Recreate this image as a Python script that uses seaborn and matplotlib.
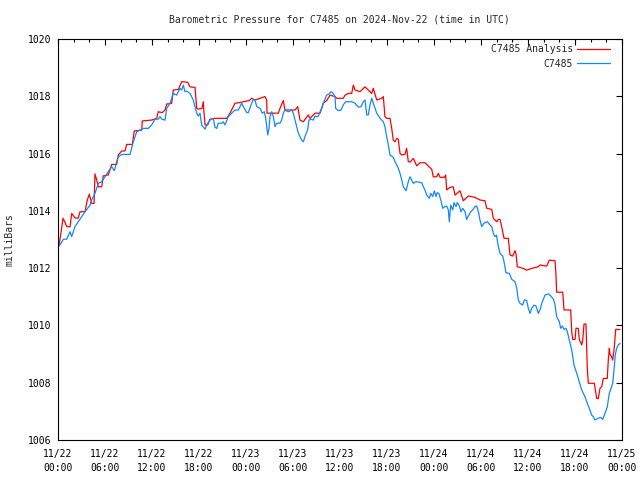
import matplotlib
matplotlib.use("Agg")
import matplotlib.pyplot as plt
from matplotlib.lines import Line2D
import pandas as pd
import seaborn as sns

# ---- data (hours after 2024-11-22 00:00 UTC, millibars) ----
analysis_hours = [0.13, 0.64, 0.89, 1.11, 1.53, 1.75, 2.17, 2.59, 2.81, 3.45, 3.74, 4.0, 4.30, 4.60, 4.72,
                  4.94, 5.14, 5.58, 5.78, 6.42, 6.64, 6.86, 7.49, 7.70, 8.13, 8.55, 8.77, 9.49, 9.74, 10.69,
                  10.76, 11.96, 12.60, 12.80, 13.31, 13.66, 13.88, 14.51, 14.72, 15.36, 15.79, 16.56, 16.85,
                  17.49, 17.71, 17.91, 18.38, 18.55, 18.64, 18.77, 19.11, 19.40, 20.04, 21.54, 21.96, 22.60,
                  23.23, 23.66, 24.42, 24.73, 25.15, 26.43, 26.64, 26.68, 28.12, 28.34, 28.76, 28.98, 30.26,
                  30.60, 30.89, 31.32, 31.95, 32.17, 32.81, 33.45, 33.87, 34.30, 34.72, 35.36, 35.58, 36.42,
                  36.64, 37.06, 37.49, 37.70, 37.91, 38.55, 39.19, 39.61, 40.05, 40.25, 40.69, 41.32, 41.53,
                  41.74, 41.96, 42.38, 42.60, 42.80, 43.02, 43.24, 43.44, 43.66, 43.88, 44.30, 44.51, 44.72,
                  44.94, 45.36, 45.79, 46.21, 46.85, 47.27, 47.71, 47.91, 48.34, 48.55, 48.77, 49.32, 49.49,
                  49.62, 50.04, 50.46, 50.68, 51.32, 51.74, 52.38, 53.23, 53.87, 54.51, 54.73, 55.37, 55.57,
                  56.00, 56.21, 56.43, 56.64, 56.94, 57.49, 57.70, 58.05, 58.34, 58.47, 58.63, 59.40, 59.83,
                  60.47, 61.32, 61.53, 62.39, 62.72, 63.45, 63.57, 63.66, 64.43, 64.60, 65.45, 65.58, 65.71,
                  66.00, 66.13, 66.42, 66.55, 66.86, 66.98, 67.15, 67.40, 67.57, 67.70, 68.46, 68.55, 68.77,
                  68.97, 69.19, 69.41, 69.61, 70.12, 70.25, 70.38, 70.47, 70.69, 70.81, 70.98, 71.20, 71.74]
analysis_mb = [1012.77, 1013.74, 1013.60, 1013.45, 1013.44, 1013.91, 1013.75, 1013.75, 1013.97, 1013.97,
               1014.38, 1014.58, 1014.26, 1014.26, 1015.29, 1015.08, 1014.84, 1014.84, 1015.22, 1015.25,
               1015.43, 1015.62, 1015.62, 1015.95, 1016.09, 1016.09, 1016.32, 1016.32, 1016.79, 1016.82,
               1017.14, 1017.17, 1017.23, 1017.46, 1017.43, 1017.52, 1017.73, 1017.75, 1018.22, 1018.24,
               1018.51, 1018.49, 1018.33, 1018.31, 1017.58, 1017.55, 1017.58, 1017.81, 1017.41, 1017.00,
               1017.00, 1017.20, 1017.23, 1017.23, 1017.41, 1017.76, 1017.78, 1017.81, 1017.85, 1017.93,
               1017.87, 1017.99, 1017.87, 1017.41, 1017.41, 1017.58, 1017.85, 1017.52, 1017.52, 1017.64,
               1017.17, 1017.11, 1017.35, 1017.23, 1017.41, 1017.41, 1017.76, 1017.85, 1018.04, 1017.99,
               1017.93, 1017.93, 1018.04, 1018.10, 1018.10, 1018.39, 1018.22, 1018.16, 1018.33, 1018.22,
               1018.10, 1018.28, 1017.87, 1017.93, 1017.99, 1017.29, 1017.23, 1017.23, 1016.88, 1016.47,
               1016.41, 1016.53, 1016.50, 1016.01, 1015.95, 1015.98, 1016.18, 1015.72, 1015.70, 1015.83,
               1015.57, 1015.68, 1015.68, 1015.57, 1015.45, 1015.19, 1015.19, 1015.31, 1015.17, 1015.17,
               1015.25, 1014.73, 1014.82, 1014.84, 1014.55, 1014.70, 1014.35, 1014.52, 1014.47, 1014.38,
               1014.35, 1014.09, 1014.05, 1013.74, 1013.62, 1013.70, 1013.70, 1013.45, 1013.04, 1013.04,
               1012.46, 1012.42, 1012.61, 1012.50, 1012.05, 1011.99, 1011.93, 1011.99, 1012.05, 1012.11,
               1012.07, 1012.28, 1012.26, 1011.76, 1011.16, 1011.16, 1010.54, 1010.54, 1009.78, 1009.51,
               1009.51, 1009.90, 1009.90, 1009.51, 1009.32, 1009.47, 1010.05, 1010.05, 1008.50, 1007.98,
               1007.98, 1007.84, 1007.45, 1007.45, 1007.80, 1007.86, 1008.15, 1008.15, 1008.79, 1009.20,
               1009.00, 1008.89, 1008.79, 1009.14, 1009.86, 1009.86]

station_hours = [0.04, 0.26, 0.68, 1.11, 1.53, 1.75, 2.17, 2.59, 3.45, 4.09, 4.30, 4.72, 5.14, 5.58, 6.00,
                 6.42, 6.86, 7.19, 7.49, 7.70, 8.13, 9.19, 9.61, 10.05, 10.47, 10.89, 11.53, 11.96, 12.38,
                 12.80, 13.02, 13.24, 13.66, 13.88, 14.30, 14.51, 14.72, 15.15, 15.57, 15.79, 16.00, 16.21,
                 16.43, 16.85, 17.27, 17.71, 17.91, 18.13, 18.34, 18.77, 18.98, 19.40, 19.83, 20.04, 20.26,
                 20.46, 20.90, 21.10, 21.32, 21.74, 22.17, 22.60, 23.02, 23.45, 23.66, 24.09, 24.29, 24.73,
                 24.93, 25.15, 25.37, 25.79, 26.08, 26.34, 26.52, 26.77, 26.94, 27.06, 27.28, 27.49, 27.70,
                 27.92, 28.34, 28.56, 28.76, 28.98, 29.40, 29.83, 30.04, 30.26, 30.68, 31.11, 31.32, 31.53,
                 31.88, 32.04, 32.30, 32.59, 32.81, 33.19, 33.66, 33.87, 34.30, 34.60, 34.85, 35.15, 35.36,
                 35.45, 35.78, 36.13, 36.42, 36.73, 37.49, 37.91, 38.34, 38.68, 38.97, 39.19, 39.41, 39.61,
                 39.83, 40.05, 40.25, 40.69, 41.11, 41.53, 41.74, 41.96, 42.17, 42.38, 42.80, 43.02, 43.44,
                 43.66, 43.88, 44.08, 44.43, 44.72, 44.94, 45.36, 45.70, 46.43, 46.64, 46.85, 47.07, 47.40,
                 47.58, 47.83, 48.04, 48.26, 48.42, 48.64, 48.89, 49.11, 49.40, 49.62, 49.83, 49.95, 50.13,
                 50.39, 50.55, 50.81, 50.97, 51.19, 51.45, 51.66, 51.96, 52.17, 52.38, 52.69, 52.94, 53.23,
                 53.45, 53.66, 53.87, 54.09, 54.38, 54.80, 55.15, 55.37, 55.57, 55.79, 55.98, 56.21, 56.43,
                 56.77, 56.94, 57.19, 57.61, 57.92, 58.34, 58.56, 58.76, 58.98, 59.32, 59.53, 59.83, 60.04,
                 60.26, 60.47, 60.77, 61.02, 61.32, 61.53, 61.75, 62.17, 62.60, 62.90, 63.24, 63.45, 63.66,
                 64.00, 64.17, 64.38, 64.60, 64.85, 65.02, 65.28, 65.58, 65.87, 66.22, 66.55, 66.86, 67.28,
                 67.57, 67.82, 68.13, 68.34, 68.55, 68.97, 69.28, 69.53, 69.83, 70.12, 70.38, 70.60, 70.81,
                 70.98, 71.14, 71.32, 71.53, 71.74]
station_mb = [1012.87, 1012.81, 1013.01, 1013.01, 1013.27, 1013.10, 1013.45, 1013.62, 1013.97, 1014.20,
              1014.38, 1014.61, 1014.96, 1015.02, 1015.19, 1015.37, 1015.54, 1015.40, 1015.72, 1015.89,
              1015.97, 1015.97, 1016.41, 1016.76, 1016.82, 1016.88, 1016.88, 1017.00, 1017.20, 1017.20,
              1017.29, 1017.20, 1017.17, 1017.58, 1017.76, 1017.93, 1018.10, 1018.04, 1018.28, 1018.22,
              1018.39, 1018.16, 1018.18, 1018.10, 1017.87, 1017.41, 1017.31, 1017.41, 1017.00, 1016.85,
              1017.00, 1017.17, 1017.23, 1016.92, 1016.88, 1017.06, 1017.06, 1017.11, 1017.00, 1017.29,
              1017.41, 1017.52, 1017.52, 1017.76, 1017.64, 1017.43, 1017.43, 1017.76, 1017.89, 1017.87,
              1017.64, 1017.58, 1017.41, 1017.46, 1017.23, 1016.65, 1016.88, 1017.29, 1017.46, 1017.29,
              1016.94, 1017.06, 1017.06, 1017.17, 1017.41, 1017.52, 1017.46, 1017.52, 1017.41, 1017.17,
              1016.71, 1016.47, 1016.41, 1016.59, 1016.85, 1017.17, 1017.20, 1017.17, 1017.31, 1017.29,
              1017.58, 1017.76, 1018.04, 1018.08, 1018.16, 1018.10, 1017.99, 1017.58, 1017.50, 1017.52,
              1017.70, 1017.81, 1017.81, 1017.76, 1017.62, 1017.64, 1017.81, 1017.87, 1017.35, 1017.35,
              1017.70, 1017.93, 1017.76, 1017.41, 1017.23, 1017.11, 1016.94, 1016.59, 1016.30, 1015.95,
              1015.87, 1015.72, 1015.49, 1015.31, 1015.08, 1014.84, 1014.70, 1015.02, 1015.19, 1014.96,
              1015.02, 1014.98, 1014.84, 1014.73, 1014.55, 1014.44, 1014.61, 1014.50, 1014.70, 1014.50,
              1014.64, 1014.60, 1014.35, 1014.09, 1014.15, 1014.17, 1014.03, 1013.62, 1014.20, 1014.03,
              1014.29, 1014.15, 1014.29, 1014.20, 1013.97, 1014.09, 1013.97, 1013.70, 1013.82, 1013.97,
              1014.03, 1014.15, 1014.17, 1013.97, 1013.68, 1013.45, 1013.57, 1013.62, 1013.51, 1013.45,
              1013.22, 1013.10, 1013.15, 1012.75, 1012.52, 1012.42, 1012.22, 1011.84, 1011.82, 1011.61,
              1011.53, 1011.30, 1010.89, 1010.77, 1010.71, 1010.89, 1010.87, 1010.60, 1010.42, 1010.60,
              1010.71, 1010.68, 1010.42, 1010.54, 1010.77, 1011.06, 1011.10, 1011.03, 1010.92, 1010.72,
              1010.30, 1010.13, 1009.90, 1009.98, 1009.86, 1009.90, 1009.78, 1009.49, 1009.14, 1008.62,
              1008.33, 1008.03, 1007.74, 1007.51, 1007.28, 1007.11, 1006.87, 1006.81, 1006.70, 1006.76,
              1006.79, 1006.72, 1006.93, 1007.16, 1007.63, 1007.80, 1007.98, 1008.44, 1008.97, 1009.20,
              1009.32, 1009.37]

series_names = ["C7485 Analysis", "C7485"]
series_colors = ["#ff0000", "#1188ff"]
x_tick_hours = [0, 6, 12, 18, 24, 30, 36, 42, 48, 54, 60, 66, 72]
x_tick_labels = ["11/22\n00:00", "11/22\n06:00", "11/22\n12:00", "11/22\n18:00",
                 "11/23\n00:00", "11/23\n06:00", "11/23\n12:00", "11/23\n18:00",
                 "11/24\n00:00", "11/24\n06:00", "11/24\n12:00", "11/24\n18:00",
                 "11/25\n00:00"]
y_ticks = [1006, 1008, 1010, 1012, 1014, 1016, 1018, 1020]
title = "Barometric Pressure for C7485 on 2024-Nov-22 (time in UTC)"
y_label = "milliBars"

# ---- build long-form table ----
df = pd.concat([
    pd.DataFrame({"hours": analysis_hours, "mb": analysis_mb, "series": series_names[0]}),
    pd.DataFrame({"hours": station_hours, "mb": station_mb, "series": series_names[1]}),
], ignore_index=True)

sns.set_theme(style="white")
plt.rcParams["font.family"] = ["DejaVu Sans Mono", "DejaVu Sans"]
FS = 7
LW = 0.9

fig = plt.figure(figsize=(6.4, 4.8), dpi=100)
ax = fig.add_axes([58 / 640, 40 / 480, 564 / 640, 401 / 480])

palette = dict(zip(series_names, series_colors))
sns.lineplot(data=df, x="hours", y="mb", hue="series", palette=palette, hue_order=series_names,
             estimator=None, sort=False, linewidth=LW, ax=ax, legend=False)

ax.set_xlim(0, 72)
ax.set_ylim(1006, 1020)
ax.set_xticks(x_tick_hours)
labels = ax.set_xticklabels(x_tick_labels)
for lab in labels:
    lab.set_linespacing(1.5)
ax.set_xticks(range(0, 73, 2), minor=True)
ax.set_yticks(y_ticks)
ax.set_yticklabels([str(v) for v in y_ticks])
ax.set_xlabel("")
ax.set_ylabel("")

ax.tick_params(axis="both", which="both", direction="in", top=True, right=True,
               colors="black", labelsize=FS, width=0.8)
ax.tick_params(axis="both", which="major", length=4.5)
ax.tick_params(axis="x", which="minor", length=2.5)
ax.tick_params(axis="x", which="major", pad=6.5)
ax.tick_params(axis="y", which="major", pad=4.5)

for sp in ax.spines.values():
    sp.set_color("black")
    sp.set_linewidth(0.8)
    sp.set_visible(True)

handles = [Line2D([], [], color=c, linewidth=LW) for c in series_colors]
ax.legend(handles=handles, labels=series_names, loc="upper right",
          bbox_to_anchor=((610 - 58) / 564, (440 - 44.5) / 401), frameon=False,
          markerfirst=False, fontsize=FS, handlelength=3.4, handletextpad=0.4,
          labelspacing=0.42, borderpad=0, borderaxespad=0)

fig.text(339 / 640, 1 - 19 / 480, title, ha="center", va="center", fontsize=FS)
fig.text(10 / 640, 1 - 240 / 480, y_label, ha="center", va="center", rotation=90, fontsize=FS)

fig.savefig("out.png", dpi=100, facecolor="white")
